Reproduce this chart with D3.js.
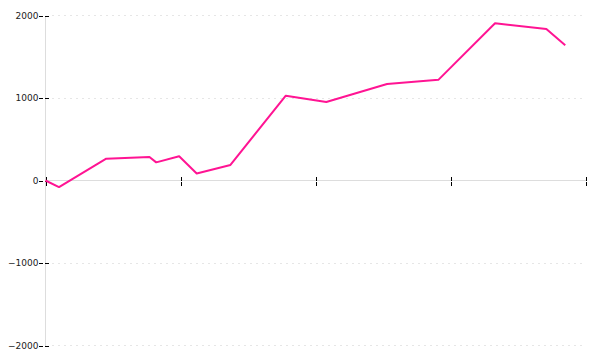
<!DOCTYPE html>
<html>
<head>
<meta charset="utf-8">
<script src="https://cdn.jsdelivr.net/npm/d3@7"></script>
<style>
  body { margin: 0; background: #fff; }
  svg { display: block; }
  .axis-line { stroke: #dddddd; stroke-width: 1; shape-rendering: crispEdges; }
  .grid line { stroke: #e6e6e6; stroke-dasharray: 2,4; shape-rendering: crispEdges; }
  .tick line { stroke: #000; stroke-dasharray: 4,1.5; shape-rendering: crispEdges; }
  .tick text { font-family: "DejaVu Sans", sans-serif; font-size: 9px; fill: #222; }
</style>
</head>
<body>
<svg id="chart" width="600" height="360"></svg>
<script>
// data
const xValues = [0, 10, 45, 77, 82, 99, 112, 137, 178, 208, 253, 291, 333, 371, 385];
const yValues = [0, -80, 265, 285, 220, 293, 85, 189, 1028, 952, 1169, 1220, 1907, 1835, 1639];
const xTicks = [0, 100, 200, 300, 400];
const yTicks = [-2000, -1000, 0, 1000, 2000];

const svg = d3.select("svg#chart");

const attr = { left: 45.5, right: 585.5, top: 15.5, bottom: 345.5 };

const x = d3.scaleLinear().domain([0, 400]).range([attr.left, attr.right]);
const y = d3.scaleLinear().domain([-2000, 2000]).range([attr.bottom, attr.top]);

// gridlines
svg.append("g")
  .attr("class", "grid")
  .selectAll("line")
  .data(yTicks)
  .enter()
  .append("line")
  .attr("x1", attr.left + 6)
  .attr("x2", attr.right)
  .attr("y1", d => y(d))
  .attr("y2", d => y(d));

// axis lines
svg.append("line")
  .attr("class", "axis-line")
  .attr("x1", attr.left).attr("x2", attr.left)
  .attr("y1", attr.top).attr("y2", attr.bottom);

svg.append("line")
  .attr("class", "axis-line")
  .attr("x1", attr.left).attr("x2", attr.right)
  .attr("y1", y(0)).attr("y2", y(0));

// y axis ticks + labels
const yAxis = d3.axisLeft(y)
  .tickValues(yTicks)
  .tickSize(0)
  .tickPadding(0)
  .tickFormat(d3.format("d"));

const yAxisG = svg.append("g")
  .attr("transform", "translate(" + attr.left + ",0)")
  .call(yAxis);

yAxisG.select(".domain").remove();
yAxisG.selectAll(".tick line")
  .attr("x1", -6.5)
  .attr("x2", 3);
yAxisG.selectAll(".tick text")
  .attr("x", -7)
  .attr("text-anchor", "end")
  .text(d => d < 0 ? "\u2212" + Math.abs(d) : d);

// x axis ticks, no labels
const xAxis = d3.axisBottom(x)
  .tickValues(xTicks)
  .tickSize(0)
  .tickFormat("");

const xAxisG = svg.append("g")
  .attr("transform", "translate(0," + y(0) + ")")
  .call(xAxis);

xAxisG.select(".domain").remove();
xAxisG.selectAll(".tick line")
  .attr("y1", -4)
  .attr("y2", 5.5);

// the series
const points = xValues.map((d, i) => [d, yValues[i]]);

const line = d3.line()
  .x(d => x(d[0]))
  .y(d => y(d[1]));

svg.append("path")
  .datum(points)
  .attr("d", line)
  .attr("fill", "none")
  .attr("stroke", "#ff1493")
  .attr("stroke-width", 2)
  .attr("stroke-linejoin", "round");
</script>
</body>
</html>
